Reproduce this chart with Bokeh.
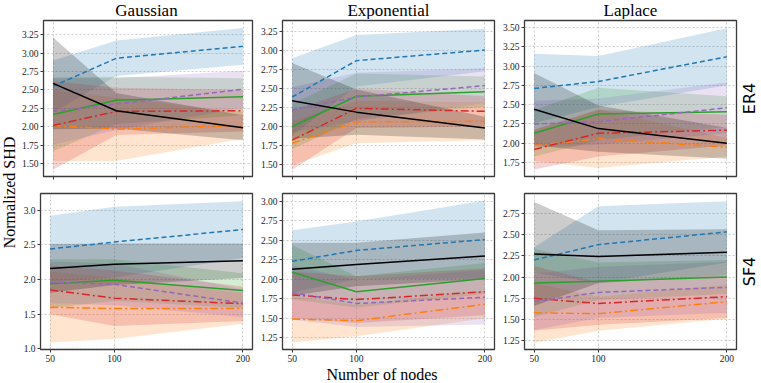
import math
from bokeh.plotting import figure
from bokeh.layouts import row, column
from bokeh.models import Range1d, FixedTicker, PrintfTickFormatter, Label
from bokeh.embed import file_html
from bokeh.resources import INLINE

# ---------------- data ----------------
nodes = [50, 100, 200]
methods = ["blue", "orange", "green", "red", "purple", "black"]

# mean and spread per method (rows follow `methods`), columns follow `nodes`
er4_gaussian_mean = [[2.55, 2.93, 3.09], [2.02, 1.97, 2.02], [2.17, 2.36, 2.41],
                     [2.02, 2.21, 2.22], [2.21, 2.31, 2.51], [2.59, 2.22, 1.99]]
er4_gaussian_sd = [[0.35, 0.24, 0.25], [0.48, 0.43, 0.18], [0.50, 0.32, 0.25],
                   [0.60, 0.32, 0.28], [0.45, 0.35, 0.25], [0.62, 0.24, 0.17]]

er4_exponential_mean = [[2.39, 2.87, 3.01], [1.78, 2.06, 2.07], [2.00, 2.40, 2.46],
                        [1.82, 2.24, 2.20], [2.22, 2.39, 2.54], [2.34, 2.19, 1.98]]
er4_exponential_sd = [[0.51, 0.34, 0.28], [0.29, 0.28, 0.25], [0.30, 0.30, 0.20],
                      [0.39, 0.26, 0.20], [0.30, 0.32, 0.23], [0.50, 0.30, 0.15]]

er4_laplace_mean = [[2.71, 2.80, 3.12], [1.97, 2.06, 1.95], [2.13, 2.38, 2.41],
                    [1.92, 2.13, 2.17], [2.25, 2.28, 2.46], [2.44, 2.19, 2.00]]
er4_laplace_sd = [[0.45, 0.33, 0.37], [0.20, 0.38, 0.12], [0.30, 0.34, 0.20],
                  [0.26, 0.30, 0.20], [0.30, 0.30, 0.33], [0.47, 0.30, 0.20]]

sf4_gaussian_mean = [[2.44, 2.54, 2.72], [1.60, 1.58, 1.58], [1.94, 1.99, 1.84],
                     [1.85, 1.73, 1.65], [1.96, 1.93, 1.66], [2.16, 2.22, 2.27]]
sf4_gaussian_sd = [[0.48, 0.51, 0.41], [0.51, 0.44, 0.22], [0.35, 0.30, 0.25],
                   [0.35, 0.40, 0.25], [0.30, 0.30, 0.20], [0.35, 0.30, 0.25]]

sf4_exponential_mean = [[2.23, 2.37, 2.51], [1.49, 1.47, 1.68], [2.09, 1.84, 2.01],
                        [1.80, 1.74, 1.84], [1.83, 1.69, 1.77], [2.13, 2.19, 2.30]]
sf4_exponential_sd = [[0.40, 0.37, 0.50], [0.30, 0.20, 0.18], [0.35, 0.20, 0.20],
                      [0.30, 0.30, 0.30], [0.35, 0.30, 0.35], [0.34, 0.28, 0.30]]

sf4_laplace_mean = [[2.20, 2.38, 2.53], [1.58, 1.57, 1.71], [1.93, 1.95, 2.00],
                    [1.75, 1.69, 1.77], [1.71, 1.82, 1.88], [2.27, 2.24, 2.29]]
sf4_laplace_sd = [[0.15, 0.45, 0.36], [0.35, 0.20, 0.20], [0.40, 0.22, 0.20],
                  [0.38, 0.25, 0.25], [0.33, 0.30, 0.30], [0.61, 0.31, 0.27]]

col_titles = ["Gaussian", "Exponential", "Laplace"]
row_titles = ["ER4", "SF4"]
x_title = "Number of nodes"
y_title = "Normalized SHD"

ticks_er4_gaussian = [1.50, 1.75, 2.00, 2.25, 2.50, 2.75, 3.00, 3.25]
ticks_er4_exponential = [1.50, 1.75, 2.00, 2.25, 2.50, 2.75, 3.00, 3.25]
ticks_er4_laplace = [1.75, 2.00, 2.25, 2.50, 2.75, 3.00, 3.25, 3.50]
ticks_sf4_gaussian = [1.0, 1.5, 2.0, 2.5, 3.0]
ticks_sf4_exponential = [1.25, 1.50, 1.75, 2.00, 2.25, 2.50, 2.75, 3.00]
ticks_sf4_laplace = [1.25, 1.50, 1.75, 2.00, 2.25, 2.50, 2.75]

# ---------------- styles / layout ----------------
COLORS = ["#1f77b4", "#ff7f0e", "#2ca02c", "#d62728", "#9467bd", "#000000"]
DASHES = ["5 3", "8 3 2 3", "solid", "8 3 2 3", "5 3", "solid"]
SERIF = "Liberation Serif"
SANS = "DejaVu Sans"
X_RANGE = (42.5, 207.5)

YLAB_W = 18
ROWLAB_W = 22
TITLE_H = 19
XLAB_H = 18
FRAME_W = 212
FRAME_H = 156
LEFT = [22, 25, 25]
RIGHT = [5, 5, 3]
TOP = [1, 9]
BOTTOM = [8, 16]

panels = [
    [(er4_gaussian_mean, er4_gaussian_sd, (1.33, 3.44), ticks_er4_gaussian, "%.2f"),
     (er4_exponential_mean, er4_exponential_sd, (1.34, 3.40), ticks_er4_exponential, "%.2f"),
     (er4_laplace_mean, er4_laplace_sd, (1.57, 3.59), ticks_er4_laplace, "%.2f")],
    [(sf4_gaussian_mean, sf4_gaussian_sd, (0.99, 3.24), ticks_sf4_gaussian, "%.1f"),
     (sf4_exponential_mean, sf4_exponential_sd, (1.10, 3.10), ticks_sf4_exponential, "%.2f"),
     (sf4_laplace_mean, sf4_laplace_sd, (1.15, 2.98), ticks_sf4_laplace, "%.2f")],
]


def make_panel(r, c):
    mean, sd, yr, yticks, fmt = panels[r][c]
    w = LEFT[c] + FRAME_W + RIGHT[c]
    h = TOP[r] + FRAME_H + BOTTOM[r]
    p = figure(width=w, height=h, x_range=Range1d(*X_RANGE), y_range=Range1d(*yr),
               output_backend="svg", toolbar_location=None, title=None,
               min_border_left=LEFT[c], min_border_right=RIGHT[c],
               min_border_top=TOP[r], min_border_bottom=BOTTOM[r])
    p.outline_line_color = "#3a3a3a"
    p.outline_line_width = 1.3
    p.background_fill_color = "white"
    p.border_fill_color = "white"

    p.xaxis.ticker = FixedTicker(ticks=nodes)
    p.yaxis.ticker = FixedTicker(ticks=yticks)
    p.yaxis.formatter = PrintfTickFormatter(format=fmt)
    for ax in (p.xaxis, p.yaxis):
        ax.axis_line_color = None
        ax.major_tick_line_color = "#3a3a3a"
        ax.major_tick_out = 3
        ax.major_tick_in = 0
        ax.minor_tick_line_color = None
        ax.major_label_text_font = SERIF
        ax.major_label_text_font_size = "9.5px"
        ax.major_label_text_color = "#222222"
        ax.major_label_standoff = 2
    if r == 0:
        p.xaxis.major_label_overrides = {n: "" for n in nodes}
        p.xaxis.major_label_text_font_size = "0px"

    p.grid.grid_line_color = "#b0b0b0"
    p.grid.grid_line_dash = "2 2"
    p.grid.grid_line_width = 0.8
    p.grid.grid_line_alpha = 0.8

    for i in range(len(methods)):
        lo = [m - s for m, s in zip(mean[i], sd[i])]
        hi = [m + s for m, s in zip(mean[i], sd[i])]
        p.varea(x=nodes, y1=lo, y2=hi, fill_color=COLORS[i], fill_alpha=0.2)
    for i in range(len(methods)):
        p.line(nodes, mean[i], line_color=COLORS[i], line_width=1.5,
               line_dash=DASHES[i])
    return p


def strip(w, h):
    s = figure(width=w, height=h, x_range=Range1d(0, w), y_range=Range1d(h, 0),
               output_backend="svg", toolbar_location=None, title=None,
               x_axis_location=None, y_axis_location=None,
               min_border=0, min_border_left=0, min_border_right=0,
               min_border_top=0, min_border_bottom=0)
    s.grid.visible = False
    s.outline_line_color = None
    s.background_fill_color = "white"
    s.border_fill_color = "white"
    return s


panel_widths = [LEFT[c] + FRAME_W + RIGHT[c] for c in range(3)]
panel_heights = [TOP[r] + FRAME_H + BOTTOM[r] for r in range(2)]
total_w = YLAB_W + sum(panel_widths) + ROWLAB_W
mid_h = sum(panel_heights)

# column titles
title_strip = strip(total_w, TITLE_H)
x0 = YLAB_W
for c in range(3):
    cx = x0 + LEFT[c] + FRAME_W / 2
    title_strip.add_layout(Label(x=cx, y=TITLE_H / 2, text=col_titles[c], text_font=SERIF,
                                 text_font_size="17px", text_align="center",
                                 text_baseline="middle", text_color="black"))
    x0 += panel_widths[c]

# y label
ylab = strip(YLAB_W, mid_h)
ylab.add_layout(Label(x=YLAB_W / 2, y=mid_h / 2, text=y_title, text_font=SERIF,
                      text_font_size="16px", text_align="center", text_baseline="middle",
                      angle=math.pi / 2, text_color="black"))

# row labels
rowlab = strip(ROWLAB_W, mid_h)
y0 = 0
for r in range(2):
    cy = y0 + TOP[r] + FRAME_H / 2
    rowlab.add_layout(Label(x=ROWLAB_W / 2 - 1, y=cy, text=row_titles[r], text_font=SANS,
                            text_font_size="16px", text_align="center",
                            text_baseline="middle", angle=math.pi / 2, text_color="black"))
    y0 += panel_heights[r]

# x label
xlab = strip(total_w, XLAB_H)
xlab.add_layout(Label(x=total_w / 2 + 1, y=XLAB_H / 2, text=x_title, text_font=SERIF,
                      text_font_size="16px", text_align="center", text_baseline="middle",
                      text_color="black"))

grid_rows = [row(*[make_panel(r, c) for c in range(3)]) for r in range(2)]
layout = column(title_strip,
                row(ylab, column(*grid_rows), rowlab),
                xlab)

with open("out.html", "w") as f:
    f.write(file_html(layout, INLINE))
